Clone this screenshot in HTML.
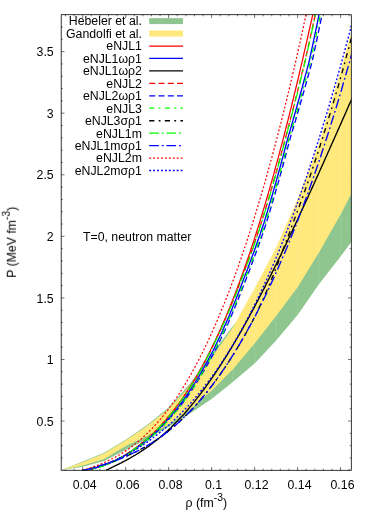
<!DOCTYPE html>
<html><head><meta charset="utf-8"><title>plot</title>
<style>html,body{margin:0;padding:0;background:#fff}svg{display:block}text{font-family:"Liberation Sans",sans-serif;font-size:12.3px;fill:#000}</style></head><body>
<svg width="374" height="523" viewBox="0 0 374 523">
<rect width="374" height="523" fill="#fff"/>
<defs><clipPath id="c"><rect x="61.2" y="14.7" width="290.1" height="455.6"/></clipPath></defs>
<path d="M61.20,457.99 h1.6 M351.30,457.99 h-1.6 M61.20,445.67 h1.6 M351.30,445.67 h-1.6 M61.20,433.36 h1.6 M351.30,433.36 h-1.6 M61.20,421.05 h3.3 M351.30,421.05 h-3.3 M61.20,408.73 h1.6 M351.30,408.73 h-1.6 M61.20,396.42 h1.6 M351.30,396.42 h-1.6 M61.20,384.11 h1.6 M351.30,384.11 h-1.6 M61.20,371.79 h1.6 M351.30,371.79 h-1.6 M61.20,359.48 h3.3 M351.30,359.48 h-3.3 M61.20,347.16 h1.6 M351.30,347.16 h-1.6 M61.20,334.85 h1.6 M351.30,334.85 h-1.6 M61.20,322.54 h1.6 M351.30,322.54 h-1.6 M61.20,310.22 h1.6 M351.30,310.22 h-1.6 M61.20,297.91 h3.3 M351.30,297.91 h-3.3 M61.20,285.60 h1.6 M351.30,285.60 h-1.6 M61.20,273.28 h1.6 M351.30,273.28 h-1.6 M61.20,260.97 h1.6 M351.30,260.97 h-1.6 M61.20,248.66 h1.6 M351.30,248.66 h-1.6 M61.20,236.34 h3.3 M351.30,236.34 h-3.3 M61.20,224.03 h1.6 M351.30,224.03 h-1.6 M61.20,211.72 h1.6 M351.30,211.72 h-1.6 M61.20,199.40 h1.6 M351.30,199.40 h-1.6 M61.20,187.09 h1.6 M351.30,187.09 h-1.6 M61.20,174.78 h3.3 M351.30,174.78 h-3.3 M61.20,162.46 h1.6 M351.30,162.46 h-1.6 M61.20,150.15 h1.6 M351.30,150.15 h-1.6 M61.20,137.84 h1.6 M351.30,137.84 h-1.6 M61.20,125.52 h1.6 M351.30,125.52 h-1.6 M61.20,113.21 h3.3 M351.30,113.21 h-3.3 M61.20,100.89 h1.6 M351.30,100.89 h-1.6 M61.20,88.58 h1.6 M351.30,88.58 h-1.6 M61.20,76.27 h1.6 M351.30,76.27 h-1.6 M61.20,63.95 h1.6 M351.30,63.95 h-1.6 M61.20,51.64 h3.3 M351.30,51.64 h-3.3 M61.20,39.33 h1.6 M351.30,39.33 h-1.6 M61.20,27.01 h1.6 M351.30,27.01 h-1.6 M65.50,470.30 v-1.6 M65.50,14.70 v1.6 M74.09,470.30 v-1.6 M74.09,14.70 v1.6 M82.69,470.30 v-3.3 M82.69,14.70 v3.3 M91.28,470.30 v-1.6 M91.28,14.70 v1.6 M99.88,470.30 v-1.6 M99.88,14.70 v1.6 M108.48,470.30 v-1.6 M108.48,14.70 v1.6 M117.07,470.30 v-1.6 M117.07,14.70 v1.6 M125.67,470.30 v-3.3 M125.67,14.70 v3.3 M134.26,470.30 v-1.6 M134.26,14.70 v1.6 M142.86,470.30 v-1.6 M142.86,14.70 v1.6 M151.45,470.30 v-1.6 M151.45,14.70 v1.6 M160.05,470.30 v-1.6 M160.05,14.70 v1.6 M168.64,470.30 v-3.3 M168.64,14.70 v3.3 M177.24,470.30 v-1.6 M177.24,14.70 v1.6 M185.84,470.30 v-1.6 M185.84,14.70 v1.6 M194.43,470.30 v-1.6 M194.43,14.70 v1.6 M203.03,470.30 v-1.6 M203.03,14.70 v1.6 M211.62,470.30 v-3.3 M211.62,14.70 v3.3 M220.22,470.30 v-1.6 M220.22,14.70 v1.6 M228.81,470.30 v-1.6 M228.81,14.70 v1.6 M237.41,470.30 v-1.6 M237.41,14.70 v1.6 M246.00,470.30 v-1.6 M246.00,14.70 v1.6 M254.60,470.30 v-3.3 M254.60,14.70 v3.3 M263.20,470.30 v-1.6 M263.20,14.70 v1.6 M271.79,470.30 v-1.6 M271.79,14.70 v1.6 M280.39,470.30 v-1.6 M280.39,14.70 v1.6 M288.98,470.30 v-1.6 M288.98,14.70 v1.6 M297.58,470.30 v-3.3 M297.58,14.70 v3.3 M306.17,470.30 v-1.6 M306.17,14.70 v1.6 M314.77,470.30 v-1.6 M314.77,14.70 v1.6 M323.36,470.30 v-1.6 M323.36,14.70 v1.6 M331.96,470.30 v-1.6 M331.96,14.70 v1.6 M340.56,470.30 v-3.3 M340.56,14.70 v3.3 M349.15,470.30 v-1.6 M349.15,14.70 v1.6" stroke="#000" stroke-width="0.55" fill="none"/>
<g clip-path="url(#c)">
<polygon points="61.2,470.3 82.7,461.5 104.2,452.8 125.7,439.8 147.2,425.0 168.6,407.6 190.1,383.6 211.6,354.3 233.1,325.8 254.6,300.0 276.1,270.0 297.6,240.0 319.1,210.0 340.6,180.0 351.3,165.0 351.3,242.0 340.6,256.5 319.1,284.0 297.6,315.0 276.1,340.5 254.6,363.5 233.1,381.7 211.6,399.0 190.1,413.5 168.6,427.0 147.2,439.0 125.7,450.0 104.2,461.0 82.7,466.8 61.2,470.3" fill="#8fc68f"/>
<path d="M125.7,439.8 V450.0 M147.2,425.0 V439.0 M168.6,407.6 V427.0 M190.1,383.6 V413.5 M211.6,354.3 V399.0 M233.1,325.8 V381.7 M254.6,300.0 V363.5 M276.1,270.0 V340.5 M297.6,240.0 V315.0 M319.1,210.0 V284.0 M340.6,180.0 V256.5" stroke="#fff" stroke-opacity="0.2" stroke-width="0.6" fill="none"/>
<polygon points="61.2,470.3 82.7,462.3 104.2,453.6 125.7,440.6 147.2,426.0 168.6,409.0 190.1,386.0 211.6,358.0 233.1,327.0 254.6,288.3 276.1,247.5 297.6,199.0 319.1,143.5 340.6,71.0 351.3,32.4 351.3,193.8 340.6,214.5 319.1,252.3 297.6,287.2 276.1,316.1 254.6,343.4 233.1,369.0 211.6,390.5 190.1,409.5 168.6,424.5 147.2,436.0 125.7,446.0 104.2,459.0 82.7,465.4 61.2,470.3" fill="#ffe97c"/>
<path d="M125.7,440.6 V446.0 M147.2,426.0 V436.0 M168.6,409.0 V424.5 M190.1,386.0 V409.5 M211.6,358.0 V390.5 M233.1,327.0 V369.0 M254.6,288.3 V343.4 M276.1,247.5 V316.1 M297.6,199.0 V287.2 M319.1,143.5 V252.3 M340.6,71.0 V214.5" stroke="#fff" stroke-opacity="0.2" stroke-width="0.6" fill="none"/>
<path d="M82.0,470.4 L83.2,470.3 L84.4,470.1 L85.5,470.0 L86.7,469.8 L87.9,469.6 L89.1,469.3 L90.2,469.1 L91.4,468.9 L92.6,468.6 L93.8,468.3 L94.9,468.0 L96.1,467.7 L97.3,467.4 L98.5,467.0 L99.6,466.7 L100.8,466.3 L102.0,465.9 L103.2,465.5 L104.3,465.0 L105.5,464.6 L106.7,464.2 L107.9,463.7 L109.0,463.2 L110.2,462.7 L111.4,462.2 L112.6,461.6 L113.7,461.1 L114.9,460.5 L116.1,460.0 L117.3,459.4 L118.5,458.7 L119.6,458.1 L120.8,457.5 L122.0,456.8 L123.2,456.2 L124.3,455.5 L125.5,454.8 L126.7,454.0 L127.9,453.3 L129.0,452.5 L130.2,451.8 L131.4,451.0 L132.6,450.2 L133.7,449.4 L134.9,448.5 L136.1,447.7 L137.3,446.8 L138.4,445.9 L139.6,445.0 L140.8,444.1 L142.0,443.1 L143.1,442.2 L144.3,441.2 L145.5,440.2 L146.7,439.2 L147.8,438.2 L149.0,437.1 L150.2,436.0 L151.4,434.9 L152.6,433.8 L153.7,432.7 L154.9,431.6 L156.1,430.4 L157.3,429.2 L158.4,428.0 L159.6,426.8 L160.8,425.5 L162.0,424.2 L163.1,422.9 L164.3,421.6 L165.5,420.3 L166.7,418.9 L167.8,417.5 L169.0,416.1 L170.2,414.7 L171.4,413.3 L172.5,411.8 L173.7,410.3 L174.9,408.8 L176.1,407.2 L177.2,405.7 L178.4,404.1 L179.6,402.5 L180.8,400.8 L181.9,399.1 L183.1,397.5 L184.3,395.7 L185.5,394.0 L186.7,392.2 L187.8,390.4 L189.0,388.6 L190.2,386.8 L191.4,384.9 L192.5,383.0 L193.7,381.0 L194.9,379.1 L196.1,377.1 L197.2,375.1 L198.4,373.0 L199.6,371.0 L200.8,368.9 L201.9,366.7 L203.1,364.6 L204.3,362.4 L205.5,360.2 L206.6,357.9 L207.8,355.6 L209.0,353.3 L210.2,351.0 L211.3,348.6 L212.5,346.2 L213.7,343.8 L214.9,341.3 L216.1,338.8 L217.2,336.3 L218.4,333.7 L219.6,331.1 L220.8,328.5 L221.9,325.8 L223.1,323.2 L224.3,320.4 L225.5,317.7 L226.6,314.9 L227.8,312.0 L229.0,309.2 L230.2,306.3 L231.3,303.4 L232.5,300.4 L233.7,297.4 L234.9,294.4 L236.0,291.3 L237.2,288.2 L238.4,285.1 L239.6,281.9 L240.7,278.7 L241.9,275.4 L243.1,272.2 L244.3,268.9 L245.4,265.5 L246.6,262.1 L247.8,258.7 L249.0,255.2 L250.2,251.8 L251.3,248.2 L252.5,244.7 L253.7,241.1 L254.9,237.4 L256.0,233.7 L257.2,230.0 L258.4,226.3 L259.6,222.5 L260.7,218.7 L261.9,214.8 L263.1,210.9 L264.3,207.0 L265.4,203.1 L266.6,199.0 L267.8,195.0 L269.0,190.9 L270.1,186.8 L271.3,182.7 L272.5,178.5 L273.7,174.3 L274.8,170.0 L276.0,165.7 L277.2,161.4 L278.4,157.1 L279.5,152.7 L280.7,148.2 L281.9,143.8 L283.1,139.3 L284.3,134.7 L285.4,130.1 L286.6,125.5 L287.8,120.9 L289.0,116.2 L290.1,111.5 L291.3,106.8 L292.5,102.0 L293.7,97.2 L294.8,92.3 L296.0,87.5 L297.2,82.5 L298.4,77.6 L299.5,72.6 L300.7,67.6 L301.9,62.6 L303.1,57.5 L304.2,52.4 L305.4,47.3 L306.6,42.1 L307.8,36.9 L308.9,31.7 L310.1,26.5 L311.3,21.2 L312.5,15.9 L313.6,10.6 L314.8,5.2 L316.0,-0.2" fill="none" stroke="#ff0000" stroke-width="1.25"/>
<path d="M82.0,470.4 L83.2,470.3 L84.4,470.1 L85.5,470.0 L86.7,469.8 L87.9,469.6 L89.1,469.3 L90.3,469.1 L91.5,468.9 L92.6,468.6 L93.8,468.3 L95.0,468.0 L96.2,467.7 L97.4,467.4 L98.6,467.0 L99.8,466.7 L101.0,466.3 L102.1,465.9 L103.3,465.5 L104.5,465.0 L105.7,464.6 L106.9,464.2 L108.1,463.7 L109.3,463.2 L110.5,462.7 L111.7,462.2 L112.9,461.6 L114.1,461.1 L115.3,460.5 L116.4,460.0 L117.6,459.4 L118.8,458.7 L120.0,458.1 L121.2,457.5 L122.4,456.8 L123.6,456.2 L124.8,455.5 L126.0,454.8 L127.2,454.0 L128.4,453.3 L129.6,452.5 L130.8,451.8 L132.0,451.0 L133.2,450.2 L134.4,449.4 L135.6,448.5 L136.8,447.7 L138.0,446.8 L139.2,445.9 L140.5,445.0 L141.7,444.1 L142.9,443.1 L144.1,442.2 L145.3,441.2 L146.5,440.2 L147.7,439.2 L148.9,438.2 L150.1,437.1 L151.3,436.0 L152.5,434.9 L153.7,433.8 L154.9,432.7 L156.1,431.6 L157.3,430.4 L158.5,429.2 L159.7,428.0 L160.9,426.8 L162.1,425.5 L163.4,424.2 L164.6,422.9 L165.8,421.6 L167.0,420.3 L168.2,418.9 L169.4,417.5 L170.6,416.1 L171.8,414.7 L173.0,413.3 L174.2,411.8 L175.5,410.3 L176.7,408.8 L177.9,407.2 L179.1,405.7 L180.3,404.1 L181.5,402.5 L182.8,400.8 L184.0,399.1 L185.2,397.5 L186.4,395.7 L187.6,394.0 L188.8,392.2 L190.0,390.4 L191.2,388.6 L192.4,386.8 L193.6,384.9 L194.8,383.0 L196.0,381.0 L197.2,379.1 L198.4,377.1 L199.6,375.1 L200.8,373.0 L202.0,371.0 L203.2,368.9 L204.4,366.7 L205.6,364.6 L206.8,362.4 L208.0,360.2 L209.2,357.9 L210.4,355.6 L211.6,353.3 L212.9,351.0 L214.1,348.6 L215.2,346.2 L216.4,343.8 L217.6,341.3 L218.8,338.8 L220.0,336.3 L221.2,333.7 L222.4,331.1 L223.5,328.5 L224.7,325.8 L225.9,323.2 L227.1,320.4 L228.3,317.7 L229.5,314.9 L230.7,312.0 L231.9,309.2 L233.0,306.3 L234.2,303.4 L235.4,300.4 L236.6,297.4 L237.8,294.4 L239.0,291.3 L240.2,288.2 L241.4,285.1 L242.6,281.9 L243.8,278.7 L245.0,275.4 L246.3,272.2 L247.6,268.9 L248.8,265.5 L250.1,262.1 L251.4,258.7 L252.6,255.2 L253.9,251.8 L255.2,248.2 L256.4,244.7 L257.7,241.1 L259.0,237.4 L260.3,233.7 L261.5,230.0 L262.8,226.3 L264.1,222.5 L265.2,218.7 L266.4,214.8 L267.6,210.9 L268.7,207.0 L269.9,203.1 L271.1,199.0 L272.3,195.0 L273.4,190.9 L274.6,186.8 L275.8,182.7 L276.9,178.5 L278.1,174.3 L279.3,170.0 L280.5,165.7 L281.6,161.4 L282.8,157.1 L284.0,152.7 L285.1,148.2 L286.3,143.8 L287.5,139.3 L288.8,134.7 L290.2,130.1 L291.5,125.5 L292.8,120.9 L294.1,116.2 L295.5,111.5 L296.8,106.8 L298.1,102.0 L299.5,97.2 L300.8,92.3 L302.2,87.5 L303.5,82.5 L304.8,77.6 L306.2,72.6 L307.5,67.6 L308.9,62.6 L310.0,57.5 L311.1,52.4 L312.2,47.3 L313.3,42.1 L314.4,36.9 L315.5,31.7 L316.6,26.5 L317.7,21.2 L318.8,15.9 L319.9,10.6 L321.1,5.2 L322.3,-0.2" fill="none" stroke="#0000ff" stroke-width="1.35"/>
<path d="M106.0,470.2 L107.3,469.6 L108.6,469.0 L109.8,468.4 L111.1,467.8 L112.4,467.2 L113.7,466.6 L114.9,465.9 L116.2,465.3 L117.5,464.7 L118.8,464.1 L120.0,463.4 L121.3,462.8 L122.6,462.1 L123.9,461.4 L125.1,460.8 L126.4,460.1 L127.7,459.4 L129.0,458.7 L130.3,458.0 L131.5,457.2 L132.8,456.5 L134.1,455.7 L135.4,455.0 L136.6,454.2 L137.9,453.4 L139.2,452.6 L140.5,451.8 L141.7,450.9 L143.0,450.1 L144.3,449.2 L145.6,448.4 L146.8,447.5 L148.1,446.6 L149.4,445.6 L150.7,444.7 L151.9,443.8 L153.2,442.8 L154.5,441.8 L155.8,440.8 L157.1,439.8 L158.3,438.7 L159.6,437.7 L160.9,436.6 L162.2,435.5 L163.4,434.4 L164.7,433.3 L166.0,432.1 L167.3,431.0 L168.5,429.8 L169.8,428.6 L171.1,427.4 L172.4,426.1 L173.6,424.9 L174.9,423.6 L176.2,422.3 L177.5,421.0 L178.8,419.6 L180.0,418.3 L181.3,416.9 L182.6,415.5 L183.9,414.1 L185.1,412.7 L186.4,411.2 L187.7,409.7 L189.0,408.2 L190.2,406.7 L191.5,405.2 L192.8,403.6 L194.1,402.1 L195.3,400.5 L196.6,398.9 L197.9,397.2 L199.2,395.6 L200.5,393.9 L201.7,392.2 L203.0,390.5 L204.3,388.8 L205.6,387.1 L206.8,385.3 L208.1,383.5 L209.4,381.7 L210.7,379.9 L211.9,378.1 L213.2,376.2 L214.5,374.3 L215.8,372.4 L217.0,370.5 L218.3,368.6 L219.6,366.6 L220.9,364.7 L222.2,362.7 L223.4,360.7 L224.7,358.7 L226.0,356.6 L227.3,354.6 L228.5,352.5 L229.8,350.4 L231.1,348.3 L232.4,346.2 L233.6,344.0 L234.9,341.9 L236.2,339.7 L237.5,337.5 L238.7,335.3 L240.0,333.1 L241.3,330.8 L242.6,328.6 L243.8,326.3 L245.1,324.0 L246.4,321.7 L247.7,319.4 L249.0,317.1 L250.2,314.7 L251.5,312.4 L252.8,310.0 L254.1,307.6 L255.3,305.2 L256.6,302.8 L257.9,300.4 L259.2,297.9 L260.4,295.5 L261.7,293.0 L263.0,290.5 L264.3,288.1 L265.5,285.6 L266.8,283.0 L268.1,280.5 L269.4,278.0 L270.7,275.4 L271.9,272.9 L273.2,270.3 L274.5,267.7 L275.8,265.1 L277.0,262.5 L278.3,259.9 L279.6,257.3 L280.9,254.7 L282.1,252.0 L283.4,249.4 L284.7,246.7 L286.0,244.1 L287.2,241.4 L288.5,238.7 L289.8,236.0 L291.1,233.3 L292.4,230.6 L293.6,227.9 L294.9,225.2 L296.2,222.4 L297.5,219.7 L298.7,217.0 L300.0,214.2 L301.3,211.4 L302.6,208.7 L303.8,205.9 L305.1,203.1 L306.4,200.4 L307.7,197.6 L308.9,194.8 L310.2,192.0 L311.5,189.2 L312.8,186.4 L314.1,183.6 L315.3,180.7 L316.6,177.9 L317.9,175.1 L319.2,172.3 L320.4,169.4 L321.7,166.6 L323.0,163.7 L324.3,160.9 L325.5,158.1 L326.8,155.2 L328.1,152.3 L329.4,149.5 L330.6,146.6 L331.9,143.8 L333.2,140.9 L334.5,138.0 L335.7,135.2 L337.0,132.3 L338.3,129.4 L339.6,126.5 L340.9,123.6 L342.1,120.8 L343.4,117.9 L344.7,115.0 L346.0,112.1 L347.2,109.2 L348.5,106.3 L349.8,103.4 L351.1,100.5 L352.3,97.6 L353.6,94.7 L354.9,91.8 L356.2,88.9 L357.4,86.0 L358.7,83.1 L360.0,80.2" fill="none" stroke="#000000" stroke-width="1.35"/>
<path d="M81.7,470.4 L82.9,470.3 L84.1,470.1 L85.2,470.0 L86.4,469.8 L87.6,469.6 L88.8,469.3 L89.9,469.1 L91.1,468.9 L92.3,468.6 L93.5,468.3 L94.7,468.0 L95.8,467.7 L97.0,467.4 L98.2,467.0 L99.4,466.7 L100.5,466.3 L101.7,465.9 L102.9,465.5 L104.1,465.0 L105.3,464.6 L106.4,464.2 L107.6,463.7 L108.8,463.2 L110.0,462.7 L111.2,462.2 L112.3,461.6 L113.5,461.1 L114.7,460.5 L115.9,460.0 L117.0,459.4 L118.2,458.7 L119.4,458.1 L120.6,457.5 L121.8,456.8 L122.9,456.2 L124.1,455.5 L125.3,454.8 L126.5,454.0 L127.7,453.3 L128.9,452.5 L130.0,451.8 L131.2,451.0 L132.4,450.2 L133.6,449.4 L134.8,448.5 L135.9,447.7 L137.1,446.8 L138.3,445.9 L139.5,445.0 L140.7,444.1 L141.8,443.1 L143.0,442.2 L144.2,441.2 L145.4,440.2 L146.6,439.2 L147.8,438.2 L148.9,437.1 L150.1,436.0 L151.3,434.9 L152.5,433.8 L153.6,432.7 L154.8,431.6 L156.0,430.4 L157.2,429.2 L158.4,428.0 L159.5,426.8 L160.7,425.5 L161.9,424.2 L163.1,422.9 L164.3,421.6 L165.4,420.3 L166.6,418.9 L167.8,417.5 L169.0,416.1 L170.2,414.7 L171.3,413.3 L172.5,411.8 L173.7,410.3 L174.9,408.8 L176.1,407.2 L177.2,405.7 L178.4,404.1 L179.6,402.5 L180.8,400.8 L182.0,399.1 L183.1,397.5 L184.3,395.7 L185.5,394.0 L186.7,392.2 L187.9,390.4 L189.1,388.6 L190.2,386.8 L191.4,384.9 L192.6,383.0 L193.8,381.0 L195.0,379.1 L196.2,377.1 L197.3,375.1 L198.5,373.0 L199.7,371.0 L200.9,368.9 L202.1,366.7 L203.3,364.6 L204.4,362.4 L205.6,360.2 L206.8,357.9 L208.0,355.6 L209.2,353.3 L210.4,351.0 L211.6,348.6 L212.7,346.2 L213.9,343.8 L215.1,341.3 L216.3,338.8 L217.5,336.3 L218.7,333.7 L219.9,331.1 L221.1,328.5 L222.3,325.8 L223.5,323.2 L224.7,320.4 L225.9,317.7 L227.1,314.9 L228.3,312.0 L229.5,309.2 L230.7,306.3 L231.9,303.4 L233.1,300.4 L234.3,297.4 L235.5,294.4 L236.7,291.3 L237.9,288.2 L239.1,285.1 L240.3,281.9 L241.5,278.7 L242.7,275.4 L243.9,272.2 L245.2,268.9 L246.4,265.5 L247.7,262.1 L248.9,258.7 L250.2,255.2 L251.4,251.8 L252.7,248.2 L253.9,244.7 L255.1,241.1 L256.4,237.4 L257.6,233.7 L258.9,230.0 L260.1,226.3 L261.4,222.5 L262.5,218.7 L263.7,214.8 L264.9,210.9 L266.1,207.0 L267.3,203.1 L268.5,199.0 L269.7,195.0 L270.8,190.9 L272.0,186.8 L273.2,182.7 L274.4,178.5 L275.6,174.3 L276.8,170.0 L278.0,165.7 L279.1,161.4 L280.3,157.1 L281.5,152.7 L282.7,148.2 L283.9,143.8 L285.1,139.3 L286.3,134.7 L287.5,130.1 L288.7,125.5 L290.0,120.9 L291.2,116.2 L292.4,111.5 L293.6,106.8 L294.8,102.0 L296.0,97.2 L297.3,92.3 L298.5,87.5 L299.7,82.5 L300.9,77.6 L302.1,72.6 L303.4,67.6 L304.6,62.6 L305.7,57.5 L306.9,52.4 L308.1,47.3 L309.2,42.1 L310.4,36.9 L311.5,31.7 L312.7,26.5 L313.8,21.2 L315.0,15.9 L316.1,10.6 L317.3,5.2 L318.5,-0.2" fill="none" stroke="#ff0000" stroke-width="1.25" stroke-dasharray="6,3.3"/>
<path d="M82.0,470.4 L83.2,470.3 L84.4,470.1 L85.6,470.0 L86.7,469.8 L87.9,469.6 L89.1,469.3 L90.3,469.1 L91.5,468.9 L92.7,468.6 L93.9,468.3 L95.1,468.0 L96.2,467.7 L97.4,467.4 L98.6,467.0 L99.8,466.7 L101.0,466.3 L102.2,465.9 L103.4,465.5 L104.6,465.0 L105.8,464.6 L107.0,464.2 L108.2,463.7 L109.4,463.2 L110.6,462.7 L111.8,462.2 L113.0,461.6 L114.2,461.1 L115.4,460.5 L116.6,460.0 L117.8,459.4 L119.0,458.7 L120.2,458.1 L121.4,457.5 L122.7,456.8 L123.9,456.2 L125.1,455.5 L126.3,454.8 L127.5,454.0 L128.7,453.3 L129.9,452.5 L131.1,451.8 L132.3,451.0 L133.6,450.2 L134.8,449.4 L136.0,448.5 L137.2,447.7 L138.4,446.8 L139.7,445.9 L140.9,445.0 L142.1,444.1 L143.3,443.1 L144.5,442.2 L145.8,441.2 L147.0,440.2 L148.2,439.2 L149.4,438.2 L150.7,437.1 L151.9,436.0 L153.1,434.9 L154.4,433.8 L155.6,432.7 L156.8,431.6 L158.1,430.4 L159.3,429.2 L160.5,428.0 L161.8,426.8 L163.0,425.5 L164.2,424.2 L165.5,422.9 L166.7,421.6 L168.0,420.3 L169.2,418.9 L170.5,417.5 L171.7,416.1 L173.0,414.7 L174.2,413.3 L175.5,411.8 L176.7,410.3 L178.0,408.8 L179.2,407.2 L180.5,405.7 L181.7,404.1 L183.0,402.5 L184.2,400.8 L185.5,399.1 L186.7,397.5 L187.9,395.7 L189.1,394.0 L190.3,392.2 L191.6,390.4 L192.8,388.6 L194.0,386.8 L195.2,384.9 L196.4,383.0 L197.7,381.0 L198.9,379.1 L200.1,377.1 L201.3,375.1 L202.6,373.0 L203.8,371.0 L205.0,368.9 L206.2,366.7 L207.5,364.6 L208.7,362.4 L209.9,360.2 L211.2,357.9 L212.4,355.6 L213.6,353.3 L214.8,351.0 L216.1,348.6 L217.3,346.2 L218.5,343.8 L219.7,341.3 L220.9,338.8 L222.1,336.3 L223.3,333.7 L224.5,331.1 L225.7,328.5 L226.9,325.8 L228.1,323.2 L229.3,320.4 L230.5,317.7 L231.7,314.9 L232.9,312.0 L234.1,309.2 L235.3,306.3 L236.5,303.4 L237.7,300.4 L238.9,297.4 L240.1,294.4 L241.3,291.3 L242.5,288.2 L243.7,285.1 L244.9,281.9 L246.2,278.7 L247.4,275.4 L248.7,272.2 L250.0,268.9 L251.2,265.5 L252.5,262.1 L253.8,258.7 L255.0,255.2 L256.3,251.8 L257.6,248.2 L258.8,244.7 L260.1,241.1 L261.4,237.4 L262.7,233.7 L263.9,230.0 L265.2,226.3 L266.5,222.5 L267.6,218.7 L268.8,214.8 L270.0,210.9 L271.1,207.0 L272.3,203.1 L273.5,199.0 L274.7,195.0 L275.8,190.9 L277.0,186.8 L278.2,182.7 L279.3,178.5 L280.5,174.3 L281.7,170.0 L282.9,165.7 L284.0,161.4 L285.2,157.1 L286.4,152.7 L287.5,148.2 L288.7,143.8 L289.9,139.3 L291.3,134.7 L292.6,130.1 L294.0,125.5 L295.4,120.9 L296.7,116.2 L298.1,111.5 L299.5,106.8 L300.8,102.0 L302.2,97.2 L303.6,92.3 L305.0,87.5 L306.3,82.5 L307.7,77.6 L309.1,72.6 L310.5,67.6 L311.9,62.6 L313.0,57.5 L314.1,52.4 L315.2,47.3 L316.3,42.1 L317.4,36.9 L318.5,31.7 L319.6,26.5 L320.7,21.2 L321.8,15.9 L322.9,10.6 L324.1,5.2 L325.3,-0.2" fill="none" stroke="#0000ff" stroke-width="1.35" stroke-dasharray="6,3.3"/>
<path d="M83.4,470.4 L84.6,470.3 L85.8,470.1 L86.9,470.0 L88.1,469.8 L89.3,469.6 L90.5,469.3 L91.7,469.1 L92.9,468.9 L94.0,468.6 L95.2,468.3 L96.4,468.0 L97.6,467.7 L98.8,467.4 L100.0,467.0 L101.2,466.7 L102.4,466.3 L103.5,465.9 L104.7,465.5 L105.9,465.0 L107.1,464.6 L108.3,464.2 L109.5,463.7 L110.7,463.2 L111.9,462.7 L113.1,462.2 L114.3,461.6 L115.5,461.1 L116.7,460.5 L117.8,460.0 L119.0,459.4 L120.2,458.7 L121.4,458.1 L122.6,457.5 L123.8,456.8 L125.0,456.2 L126.2,455.5 L127.4,454.8 L128.6,454.0 L129.8,453.3 L131.0,452.5 L132.2,451.8 L133.4,451.0 L134.6,450.2 L135.8,449.4 L137.0,448.5 L138.2,447.7 L139.4,446.8 L140.6,445.9 L141.9,445.0 L143.1,444.1 L144.3,443.1 L145.5,442.2 L146.7,441.2 L147.9,440.2 L149.1,439.2 L150.3,438.2 L151.5,437.1 L152.7,436.0 L153.9,434.9 L155.1,433.8 L156.3,432.7 L157.5,431.6 L158.7,430.4 L159.9,429.2 L161.1,428.0 L162.3,426.8 L163.5,425.5 L164.8,424.2 L166.0,422.9 L167.2,421.6 L168.4,420.3 L169.6,418.9 L170.8,417.5 L172.0,416.1 L173.2,414.7 L174.4,413.3 L175.6,411.8 L176.9,410.3 L178.1,408.8 L179.3,407.2 L180.5,405.7 L181.7,404.1 L182.9,402.5 L184.2,400.8 L185.4,399.1 L186.6,397.5 L187.8,395.7 L189.0,394.0 L190.2,392.2 L191.4,390.4 L192.6,388.6 L193.8,386.8 L195.0,384.9 L196.2,383.0 L197.4,381.0 L198.6,379.1 L199.8,377.1 L201.0,375.1 L202.2,373.0 L203.4,371.0 L204.6,368.9 L205.8,366.7 L207.0,364.6 L208.2,362.4 L209.4,360.2 L210.6,357.9 L211.8,355.6 L213.0,353.3 L214.3,351.0 L215.5,348.6 L216.6,346.2 L217.8,343.8 L219.0,341.3 L220.2,338.8 L221.4,336.3 L222.6,333.7 L223.8,331.1 L224.9,328.5 L226.1,325.8 L227.3,323.2 L228.5,320.4 L229.7,317.7 L230.9,314.9 L232.1,312.0 L233.3,309.2 L234.4,306.3 L235.6,303.4 L236.8,300.4 L238.0,297.4 L239.2,294.4 L240.4,291.3 L241.6,288.2 L242.8,285.1 L244.0,281.9 L245.2,278.7 L246.4,275.4 L247.7,272.2 L249.0,268.9 L250.2,265.5 L251.5,262.1 L252.8,258.7 L254.0,255.2 L255.3,251.8 L256.6,248.2 L257.8,244.7 L259.1,241.1 L260.4,237.4 L261.7,233.7 L262.9,230.0 L264.2,226.3 L265.5,222.5 L266.6,218.7 L267.8,214.8 L269.0,210.9 L270.1,207.0 L271.3,203.1 L272.5,199.0 L273.7,195.0 L274.8,190.9 L276.0,186.8 L277.2,182.7 L278.3,178.5 L279.5,174.3 L280.7,170.0 L281.9,165.7 L283.0,161.4 L284.2,157.1 L285.4,152.7 L286.5,148.2 L287.7,143.8 L288.9,139.3 L290.2,134.7 L291.6,130.1 L292.9,125.5 L294.2,120.9 L295.5,116.2 L296.9,111.5 L298.2,106.8 L299.5,102.0 L300.9,97.2 L302.2,92.3 L303.6,87.5 L304.9,82.5 L306.2,77.6 L307.6,72.6 L308.9,67.6 L310.3,62.6 L311.4,57.5 L312.5,52.4 L313.6,47.3 L314.7,42.1 L315.8,36.9 L316.9,31.7 L318.0,26.5 L319.1,21.2 L320.2,15.9 L321.3,10.6 L322.5,5.2 L323.7,-0.2" fill="none" stroke="#00ff00" stroke-width="1.25" stroke-dasharray="5.2,4.3,1.8,4.3"/>
<path d="M82.0,471.0 L83.4,470.6 L84.8,470.2 L86.2,469.8 L87.5,469.4 L88.9,469.0 L90.3,468.6 L91.7,468.2 L93.1,467.7 L94.5,467.3 L95.9,466.9 L97.3,466.5 L98.6,466.1 L100.0,465.7 L101.4,465.2 L102.8,464.8 L104.2,464.4 L105.6,463.9 L107.0,463.5 L108.4,463.0 L109.7,462.5 L111.1,462.0 L112.5,461.6 L113.9,461.1 L115.3,460.6 L116.7,460.1 L118.1,459.5 L119.4,459.0 L120.8,458.5 L122.2,457.9 L123.6,457.3 L125.0,456.8 L126.4,456.2 L127.8,455.6 L129.2,455.0 L130.5,454.3 L131.9,453.7 L133.3,453.0 L134.7,452.4 L136.1,451.7 L137.5,451.0 L138.9,450.3 L140.3,449.6 L141.6,448.8 L143.0,448.1 L144.4,447.3 L145.8,446.5 L147.2,445.7 L148.6,444.9 L150.0,444.0 L151.3,443.2 L152.7,442.3 L154.1,441.4 L155.5,440.5 L156.9,439.6 L158.3,438.6 L159.7,437.6 L161.1,436.7 L162.4,435.6 L163.8,434.6 L165.2,433.6 L166.6,432.5 L168.0,431.4 L169.4,430.3 L170.8,429.2 L172.2,428.1 L173.5,426.9 L174.9,425.7 L176.3,424.5 L177.7,423.3 L179.1,422.0 L180.5,420.7 L181.9,419.4 L183.2,418.1 L184.6,416.8 L186.0,415.4 L187.4,414.0 L188.8,412.6 L190.2,411.2 L191.6,409.7 L193.0,408.3 L194.3,406.8 L195.7,405.2 L197.1,403.7 L198.5,402.1 L199.9,400.5 L201.3,398.9 L202.7,397.3 L204.1,395.6 L205.4,393.9 L206.8,392.2 L208.2,390.5 L209.6,388.7 L211.0,386.9 L212.4,385.1 L213.8,383.2 L215.1,381.4 L216.5,379.5 L217.9,377.6 L219.3,375.6 L220.7,373.6 L222.1,371.6 L223.5,369.6 L224.9,367.6 L226.2,365.5 L227.6,363.4 L229.0,361.3 L230.4,359.1 L231.8,356.9 L233.2,354.7 L234.6,352.5 L235.9,350.2 L237.3,348.0 L238.7,345.6 L240.1,343.3 L241.5,340.9 L242.9,338.5 L244.3,336.1 L245.7,333.7 L247.0,331.2 L248.4,328.7 L249.8,326.1 L251.2,323.6 L252.6,321.0 L253.9,318.3 L255.3,315.7 L256.6,313.0 L257.9,310.3 L259.2,307.6 L260.5,304.8 L261.9,302.0 L263.1,299.2 L264.4,296.3 L265.6,293.5 L266.9,290.5 L268.1,287.6 L269.4,284.6 L270.6,281.6 L271.8,278.6 L273.1,275.5 L274.3,272.4 L275.5,269.3 L276.8,266.2 L278.0,263.0 L279.2,259.8 L280.4,256.5 L281.7,253.3 L282.9,249.9 L284.2,246.6 L285.5,243.2 L286.8,239.8 L288.1,236.4 L289.4,232.9 L290.7,229.4 L291.9,225.9 L293.2,222.4 L294.6,218.8 L295.9,215.1 L297.3,211.5 L298.7,207.8 L300.1,204.1 L301.5,200.3 L302.9,196.5 L304.2,192.7 L305.6,188.8 L307.0,184.9 L308.3,181.0 L309.7,177.0 L311.1,173.0 L312.4,169.0 L313.8,164.9 L315.2,160.8 L316.5,156.7 L317.9,152.5 L319.3,148.3 L320.6,144.1 L322.0,139.8 L323.4,135.5 L324.7,131.1 L326.1,126.7 L327.5,122.3 L328.8,117.8 L330.2,113.3 L331.6,108.8 L332.9,104.2 L334.3,99.6 L335.6,94.9 L337.0,90.2 L338.4,85.5 L339.7,80.7 L341.1,75.9 L342.5,71.0 L343.8,66.1 L345.2,61.2 L346.5,56.2 L347.9,51.2 L349.3,46.1 L350.6,41.0 L352.0,35.9 L353.4,30.7" fill="none" stroke="#000000" stroke-width="1.35" stroke-dasharray="5.2,4.3,1.8,4.3"/>
<path d="M82.0,470.4 L83.2,470.3 L84.4,470.1 L85.5,470.0 L86.7,469.8 L87.9,469.6 L89.1,469.3 L90.2,469.1 L91.4,468.9 L92.6,468.6 L93.8,468.3 L95.0,468.0 L96.1,467.7 L97.3,467.4 L98.5,467.0 L99.7,466.7 L100.8,466.3 L102.0,465.9 L103.2,465.5 L104.4,465.0 L105.6,464.6 L106.7,464.2 L107.9,463.7 L109.1,463.2 L110.3,462.7 L111.5,462.2 L112.6,461.6 L113.8,461.1 L115.0,460.5 L116.2,460.0 L117.3,459.4 L118.5,458.7 L119.7,458.1 L120.9,457.5 L122.1,456.8 L123.2,456.2 L124.4,455.5 L125.6,454.8 L126.8,454.0 L128.0,453.3 L129.2,452.5 L130.3,451.8 L131.5,451.0 L132.7,450.2 L133.9,449.4 L135.1,448.5 L136.2,447.7 L137.4,446.8 L138.6,445.9 L139.8,445.0 L141.0,444.1 L142.1,443.1 L143.3,442.2 L144.5,441.2 L145.7,440.2 L146.9,439.2 L148.1,438.2 L149.2,437.1 L150.4,436.0 L151.6,434.9 L152.8,433.8 L153.9,432.7 L155.1,431.6 L156.3,430.4 L157.5,429.2 L158.7,428.0 L159.8,426.8 L161.0,425.5 L162.2,424.2 L163.4,422.9 L164.6,421.6 L165.7,420.3 L166.9,418.9 L168.1,417.5 L169.3,416.1 L170.5,414.7 L171.6,413.3 L172.8,411.8 L174.0,410.3 L175.2,408.8 L176.4,407.2 L177.5,405.7 L178.7,404.1 L179.9,402.5 L181.1,400.8 L182.3,399.1 L183.4,397.5 L184.6,395.7 L185.8,394.0 L187.0,392.2 L188.2,390.4 L189.4,388.6 L190.5,386.8 L191.7,384.9 L192.9,383.0 L194.1,381.0 L195.3,379.1 L196.5,377.1 L197.6,375.1 L198.8,373.0 L200.0,371.0 L201.2,368.9 L202.4,366.7 L203.6,364.6 L204.7,362.4 L205.9,360.2 L207.1,357.9 L208.3,355.6 L209.5,353.3 L210.7,351.0 L211.9,348.6 L213.0,346.2 L214.2,343.8 L215.4,341.3 L216.6,338.8 L217.8,336.3 L219.0,333.7 L220.2,331.1 L221.4,328.5 L222.6,325.8 L223.8,323.2 L225.0,320.4 L226.2,317.7 L227.4,314.9 L228.6,312.0 L229.8,309.2 L231.0,306.3 L232.2,303.4 L233.4,300.4 L234.6,297.4 L235.8,294.4 L237.0,291.3 L238.2,288.2 L239.4,285.1 L240.6,281.9 L241.8,278.7 L243.0,275.4 L244.2,272.2 L245.5,268.9 L246.7,265.5 L248.0,262.1 L249.2,258.7 L250.5,255.2 L251.7,251.8 L253.0,248.2 L254.2,244.7 L255.4,241.1 L256.7,237.4 L257.9,233.7 L259.2,230.0 L260.4,226.3 L261.7,222.5 L262.8,218.7 L264.0,214.8 L265.2,210.9 L266.4,207.0 L267.6,203.1 L268.8,199.0 L270.0,195.0 L271.1,190.9 L272.3,186.8 L273.5,182.7 L274.7,178.5 L275.9,174.3 L277.1,170.0 L278.3,165.7 L279.4,161.4 L280.6,157.1 L281.8,152.7 L283.0,148.2 L284.2,143.8 L285.4,139.3 L286.6,134.7 L287.8,130.1 L289.0,125.5 L290.3,120.9 L291.5,116.2 L292.7,111.5 L293.9,106.8 L295.1,102.0 L296.3,97.2 L297.6,92.3 L298.8,87.5 L300.0,82.5 L301.2,77.6 L302.4,72.6 L303.7,67.6 L304.9,62.6 L306.0,57.5 L307.2,52.4 L308.4,47.3 L309.5,42.1 L310.7,36.9 L311.8,31.7 L313.0,26.5 L314.1,21.2 L315.3,15.9 L316.4,10.6 L317.6,5.2 L318.8,-0.2" fill="none" stroke="#00ff00" stroke-width="1.25" stroke-dasharray="9.6,3,1.8,2.8"/>
<path d="M82.0,471.0 L83.4,470.6 L84.8,470.2 L86.2,469.8 L87.5,469.4 L88.9,469.0 L90.3,468.6 L91.7,468.2 L93.1,467.7 L94.5,467.3 L95.9,466.9 L97.3,466.5 L98.6,466.1 L100.0,465.7 L101.4,465.2 L102.8,464.8 L104.2,464.4 L105.6,463.9 L107.0,463.5 L108.4,463.0 L109.7,462.5 L111.1,462.0 L112.5,461.6 L113.9,461.1 L115.3,460.6 L116.7,460.1 L118.1,459.5 L119.4,459.0 L120.8,458.5 L122.2,457.9 L123.6,457.3 L125.0,456.8 L126.4,456.2 L127.8,455.6 L129.2,455.0 L130.5,454.3 L131.9,453.7 L133.3,453.0 L134.7,452.4 L136.1,451.7 L137.5,451.0 L138.9,450.3 L140.3,449.6 L141.6,448.8 L143.0,448.1 L144.4,447.3 L145.8,446.5 L147.2,445.7 L148.6,444.9 L150.0,444.0 L151.3,443.2 L152.7,442.3 L154.1,441.4 L155.5,440.5 L156.9,439.6 L158.3,438.6 L159.7,437.6 L161.1,436.7 L162.4,435.6 L163.8,434.6 L165.2,433.6 L166.6,432.5 L168.0,431.4 L169.4,430.3 L170.8,429.2 L172.2,428.1 L173.5,426.9 L174.9,425.7 L176.3,424.5 L177.7,423.3 L179.1,422.0 L180.5,420.7 L181.9,419.4 L183.2,418.1 L184.6,416.8 L186.0,415.4 L187.4,414.0 L188.8,412.6 L190.2,411.2 L191.6,409.7 L193.0,408.3 L194.3,406.8 L195.7,405.2 L197.1,403.7 L198.5,402.1 L199.9,400.5 L201.3,398.9 L202.7,397.3 L204.1,395.6 L205.4,393.9 L206.8,392.2 L208.2,390.5 L209.6,388.7 L211.0,386.9 L212.4,385.1 L213.8,383.2 L215.1,381.4 L216.5,379.5 L217.9,377.6 L219.3,375.6 L220.7,373.6 L222.1,371.6 L223.5,369.6 L224.9,367.6 L226.2,365.5 L227.6,363.4 L229.0,361.3 L230.4,359.1 L231.8,356.9 L233.2,354.7 L234.6,352.5 L235.9,350.2 L237.3,348.0 L238.7,345.6 L240.1,343.3 L241.5,340.9 L242.9,338.5 L244.3,336.1 L245.7,333.7 L247.0,331.2 L248.4,328.7 L249.8,326.1 L251.2,323.6 L252.6,321.0 L254.0,318.3 L255.4,315.7 L256.8,313.0 L258.1,310.3 L259.5,307.6 L260.9,304.8 L262.3,302.0 L263.7,299.2 L265.1,296.3 L266.5,293.5 L267.8,290.5 L269.2,287.6 L270.6,284.6 L272.0,281.6 L273.4,278.6 L274.8,275.5 L276.2,272.4 L277.6,269.3 L278.9,266.2 L280.3,263.0 L281.7,259.8 L283.1,256.5 L284.5,253.3 L285.9,249.9 L287.3,246.6 L288.7,243.2 L290.0,239.8 L291.4,236.4 L292.8,232.9 L294.2,229.4 L295.6,225.9 L297.0,222.4 L298.4,218.8 L299.7,215.1 L301.1,211.5 L302.5,207.8 L303.9,204.1 L305.3,200.3 L306.7,196.5 L308.1,192.7 L309.5,188.8 L310.8,184.9 L312.2,181.0 L313.6,177.0 L315.0,173.0 L316.4,169.0 L317.8,164.9 L319.2,160.8 L320.6,156.7 L321.9,152.5 L323.3,148.3 L324.7,144.1 L326.1,139.8 L327.5,135.5 L328.9,131.1 L330.3,126.7 L331.6,122.3 L333.0,117.8 L334.4,113.3 L335.8,108.8 L337.2,104.2 L338.6,99.6 L340.0,94.9 L341.4,90.2 L342.7,85.5 L344.1,80.7 L345.5,75.9 L346.9,71.0 L348.3,66.1 L349.7,61.2 L351.1,56.2 L352.5,51.2 L353.8,46.1 L355.2,41.0 L356.6,35.9 L358.0,30.7" fill="none" stroke="#0000ff" stroke-width="1.35" stroke-dasharray="9.6,3,1.8,2.8"/>
<path d="M82.0,470.4 L83.1,470.1 L84.3,469.7 L85.4,469.4 L86.6,469.0 L87.7,468.7 L88.8,468.3 L90.0,467.9 L91.1,467.5 L92.3,467.1 L93.4,466.7 L94.5,466.3 L95.7,465.9 L96.8,465.5 L98.0,465.1 L99.1,464.6 L100.3,464.2 L101.4,463.7 L102.5,463.2 L103.7,462.7 L104.8,462.2 L106.0,461.7 L107.1,461.2 L108.2,460.7 L109.4,460.2 L110.5,459.6 L111.7,459.0 L112.8,458.5 L113.9,457.9 L115.1,457.3 L116.2,456.6 L117.4,456.0 L118.5,455.3 L119.6,454.7 L120.8,454.0 L121.9,453.3 L123.1,452.6 L124.2,451.9 L125.3,451.1 L126.5,450.4 L127.6,449.6 L128.8,448.8 L129.9,448.0 L131.1,447.2 L132.2,446.3 L133.3,445.4 L134.5,444.6 L135.6,443.7 L136.8,442.8 L137.9,441.8 L139.0,440.9 L140.2,439.9 L141.3,438.9 L142.5,437.9 L143.6,436.8 L144.7,435.8 L145.9,434.7 L147.0,433.6 L148.2,432.5 L149.3,431.4 L150.4,430.2 L151.6,429.1 L152.7,427.9 L153.9,426.6 L155.0,425.4 L156.1,424.1 L157.3,422.8 L158.4,421.5 L159.6,420.2 L160.7,418.9 L161.8,417.5 L163.0,416.1 L164.1,414.7 L165.3,413.2 L166.4,411.8 L167.6,410.3 L168.7,408.8 L169.8,407.2 L171.0,405.7 L172.1,404.1 L173.3,402.5 L174.4,400.8 L175.5,399.2 L176.7,397.5 L177.8,395.8 L179.0,394.0 L180.1,392.3 L181.2,390.5 L182.4,388.7 L183.5,386.8 L184.7,385.0 L185.8,383.1 L186.9,381.2 L188.1,379.2 L189.2,377.3 L190.4,375.3 L191.5,373.3 L192.6,371.2 L193.8,369.1 L194.9,367.1 L196.1,364.9 L197.2,362.8 L198.4,360.6 L199.5,358.4 L200.6,356.2 L201.8,353.9 L202.9,351.6 L204.1,349.3 L205.2,346.9 L206.3,344.6 L207.5,342.2 L208.6,339.7 L209.8,337.3 L210.9,334.8 L212.0,332.3 L213.2,329.7 L214.3,327.1 L215.5,324.5 L216.6,321.9 L217.7,319.3 L218.9,316.6 L220.0,313.8 L221.2,311.1 L222.3,308.3 L223.4,305.5 L224.6,302.7 L225.7,299.8 L226.9,296.9 L228.0,294.0 L229.2,291.0 L230.3,288.0 L231.4,285.0 L232.6,281.9 L233.7,278.9 L234.9,275.8 L236.0,272.6 L237.1,269.4 L238.3,266.2 L239.4,263.0 L240.6,259.7 L241.7,256.4 L242.8,253.1 L244.0,249.7 L245.1,246.3 L246.3,242.9 L247.4,239.4 L248.5,235.9 L249.7,232.4 L250.8,228.9 L252.0,225.3 L253.1,221.6 L254.2,218.0 L255.4,214.3 L256.5,210.6 L257.7,206.8 L258.8,203.0 L259.9,199.2 L261.1,195.3 L262.2,191.4 L263.4,187.5 L264.5,183.6 L265.7,179.6 L266.8,175.5 L267.9,171.5 L269.1,167.4 L270.2,163.2 L271.4,159.1 L272.5,154.9 L273.6,150.6 L274.8,146.3 L275.9,142.0 L277.1,137.7 L278.2,133.3 L279.3,128.9 L280.5,124.4 L281.6,119.9 L282.8,115.4 L283.9,110.8 L285.0,106.2 L286.2,101.6 L287.3,96.9 L288.5,92.2 L289.6,87.4 L290.7,82.6 L291.9,77.8 L293.0,72.9 L294.2,68.0 L295.3,63.1 L296.5,58.1 L297.6,53.1 L298.7,48.0 L299.9,42.9 L301.0,37.8 L302.2,32.6 L303.3,27.4 L304.4,22.1 L305.6,16.8 L306.7,11.5 L307.9,6.1 L309.0,0.7" fill="none" stroke="#ff0000" stroke-width="1.25" stroke-dasharray="1.9,2.03"/>
<path d="M82.0,470.5 L83.4,470.3 L84.8,470.0 L86.2,469.7 L87.5,469.4 L88.9,469.1 L90.3,468.8 L91.7,468.5 L93.1,468.1 L94.5,467.7 L95.9,467.3 L97.3,466.9 L98.6,466.5 L100.0,466.1 L101.4,465.6 L102.8,465.1 L104.2,464.7 L105.6,464.2 L107.0,463.6 L108.4,463.1 L109.7,462.6 L111.1,462.0 L112.5,461.4 L113.9,460.8 L115.3,460.2 L116.7,459.6 L118.1,459.0 L119.4,458.3 L120.8,457.6 L122.2,457.0 L123.6,456.3 L125.0,455.6 L126.4,454.8 L127.8,454.1 L129.2,453.3 L130.5,452.6 L131.9,451.8 L133.3,451.0 L134.7,450.1 L136.1,449.3 L137.5,448.5 L138.9,447.6 L140.3,446.7 L141.6,445.8 L143.0,444.9 L144.4,444.0 L145.8,443.0 L147.2,442.1 L148.6,441.1 L150.0,440.1 L151.3,439.1 L152.7,438.1 L154.1,437.0 L155.5,436.0 L156.9,434.9 L158.3,433.8 L159.7,432.7 L161.1,431.6 L162.4,430.4 L163.8,429.3 L165.2,428.1 L166.6,426.9 L168.0,425.7 L169.4,424.4 L170.8,423.2 L172.2,421.9 L173.5,420.6 L174.9,419.3 L176.3,418.0 L177.7,416.6 L179.1,415.3 L180.5,413.9 L181.9,412.5 L183.2,411.0 L184.6,409.6 L186.0,408.1 L187.4,406.6 L188.8,405.1 L190.2,403.6 L191.6,402.0 L193.0,400.4 L194.3,398.8 L195.7,397.2 L197.1,395.6 L198.5,393.9 L199.9,392.2 L201.3,390.5 L202.7,388.8 L204.1,387.0 L205.4,385.2 L206.8,383.4 L208.2,381.6 L209.6,379.7 L211.0,377.9 L212.4,376.0 L213.8,374.0 L215.1,372.1 L216.5,370.1 L217.9,368.1 L219.3,366.1 L220.7,364.0 L222.1,361.9 L223.5,359.8 L224.9,357.7 L226.2,355.5 L227.6,353.3 L229.0,351.1 L230.4,348.8 L231.8,346.6 L233.2,344.3 L234.6,341.9 L235.9,339.6 L237.3,337.2 L238.7,334.8 L240.1,332.3 L241.5,329.8 L242.9,327.3 L244.3,324.8 L245.7,322.2 L247.0,319.6 L248.4,317.0 L249.8,314.3 L251.2,311.6 L252.6,308.9 L254.0,306.1 L255.4,303.4 L256.8,300.5 L258.1,297.7 L259.5,294.8 L260.9,291.9 L262.3,288.9 L263.7,286.0 L265.1,282.9 L266.5,279.9 L267.8,276.8 L269.2,273.7 L270.6,270.6 L272.0,267.4 L273.4,264.2 L274.8,260.9 L276.2,257.6 L277.6,254.3 L278.9,251.0 L280.3,247.6 L281.7,244.1 L283.1,240.7 L284.5,237.2 L285.9,233.7 L287.3,230.1 L288.7,226.5 L290.0,222.9 L291.4,219.2 L292.8,215.5 L294.2,211.8 L295.6,208.0 L297.0,204.2 L298.4,200.3 L299.7,196.4 L301.1,192.5 L302.5,188.5 L303.9,184.5 L305.3,180.5 L306.7,176.5 L308.1,172.3 L309.5,168.2 L310.8,164.0 L312.2,159.8 L313.6,155.6 L315.0,151.3 L316.4,147.0 L317.8,142.6 L319.2,138.2 L320.6,133.8 L321.9,129.3 L323.3,124.8 L324.7,120.2 L326.1,115.7 L327.5,111.1 L328.9,106.4 L330.3,101.7 L331.6,97.0 L333.0,92.2 L334.4,87.4 L335.8,82.6 L337.2,77.7 L338.6,72.8 L340.0,67.9 L341.4,62.9 L342.7,57.9 L344.1,52.9 L345.5,47.8 L346.9,42.7 L348.3,37.5 L349.7,32.3 L351.1,27.1 L352.5,21.9 L353.8,16.6 L355.2,11.3 L356.6,5.9 L358.0,0.5" fill="none" stroke="#0000ff" stroke-width="1.35" stroke-dasharray="1.9,2.03"/>
</g>
<g opacity="0.999">
<rect x="149.2" y="18.1" width="33.8" height="6" fill="#8fc68f"/>
<rect x="149.2" y="30.5" width="33.8" height="6" fill="#ffe97c"/>
<text x="141.9" y="25.4" text-anchor="end">Hebeler et al.</text>
<text x="141.9" y="37.8" text-anchor="end">Gandolfi et al.</text>
<text x="141.9" y="50.3" text-anchor="end">eNJL1</text>
<text x="141.9" y="62.7" text-anchor="end">eNJL1ωρ1</text>
<text x="141.9" y="75.2" text-anchor="end">eNJL1ωρ2</text>
<text x="141.9" y="87.6" text-anchor="end">eNJL2</text>
<text x="141.9" y="100.1" text-anchor="end">eNJL2ωρ1</text>
<text x="141.9" y="112.5" text-anchor="end">eNJL3</text>
<text x="141.9" y="125.0" text-anchor="end">eNJL3σρ1</text>
<text x="141.9" y="137.5" text-anchor="end">eNJL1m</text>
<text x="141.9" y="149.9" text-anchor="end">eNJL1mσρ1</text>
<text x="141.9" y="162.3" text-anchor="end">eNJL2m</text>
<text x="141.9" y="174.8" text-anchor="end">eNJL2mσρ1</text>
<path d="M149.2,46.0 L183.0,46.0" stroke="#ff0000" stroke-width="1.25"/>
<path d="M149.2,58.4 L183.0,58.4" stroke="#0000ff" stroke-width="1.35"/>
<path d="M149.2,70.9 L183.0,70.9" stroke="#000000" stroke-width="1.35"/>
<path d="M149.2,83.3 L183.0,83.3" stroke="#ff0000" stroke-width="1.25" stroke-dasharray="6,3.3"/>
<path d="M149.2,95.8 L183.0,95.8" stroke="#0000ff" stroke-width="1.35" stroke-dasharray="6,3.3"/>
<path d="M149.2,108.2 L183.0,108.2" stroke="#00ff00" stroke-width="1.25" stroke-dasharray="5.2,4.3,1.8,4.3"/>
<path d="M149.2,120.7 L183.0,120.7" stroke="#000000" stroke-width="1.35" stroke-dasharray="5.2,4.3,1.8,4.3"/>
<path d="M149.2,133.2 L183.0,133.2" stroke="#00ff00" stroke-width="1.25" stroke-dasharray="9.6,3,1.8,2.8"/>
<path d="M149.2,145.6 L183.0,145.6" stroke="#0000ff" stroke-width="1.35" stroke-dasharray="9.6,3,1.8,2.8"/>
<path d="M149.2,158.0 L183.0,158.0" stroke="#ff0000" stroke-width="1.25" stroke-dasharray="1.9,2.03"/>
<path d="M149.2,170.5 L183.0,170.5" stroke="#0000ff" stroke-width="1.35" stroke-dasharray="1.9,2.03"/>
<rect x="61.2" y="14.7" width="290.1" height="455.6" fill="none" stroke="#000" stroke-width="0.8"/>
<text x="53.7" y="425.6" text-anchor="end">0.5</text>
<text x="53.7" y="364.1" text-anchor="end">1</text>
<text x="53.7" y="302.5" text-anchor="end">1.5</text>
<text x="53.7" y="240.9" text-anchor="end">2</text>
<text x="53.7" y="179.4" text-anchor="end">2.5</text>
<text x="53.7" y="117.8" text-anchor="end">3</text>
<text x="53.7" y="56.2" text-anchor="end">3.5</text>
<text x="84.6" y="488.8" text-anchor="middle">0.04</text>
<text x="127.6" y="488.8" text-anchor="middle">0.06</text>
<text x="170.5" y="488.8" text-anchor="middle">0.08</text>
<text x="213.5" y="488.8" text-anchor="middle">0.1</text>
<text x="256.5" y="488.8" text-anchor="middle">0.12</text>
<text x="299.5" y="488.8" text-anchor="middle">0.14</text>
<text x="342.5" y="488.8" text-anchor="middle">0.16</text>
<text x="185.6" y="507">ρ (fm<tspan dy="-6" font-size="10.3px">-3</tspan><tspan dy="6">)</tspan></text>
<text transform="translate(15.8,277.8) rotate(-90)">P (MeV fm<tspan dy="-6" font-size="10.3px">-3</tspan><tspan dy="6">)</tspan></text>
<text x="83" y="241.3">T=0, neutron matter</text>
</g>
</svg></body></html>
